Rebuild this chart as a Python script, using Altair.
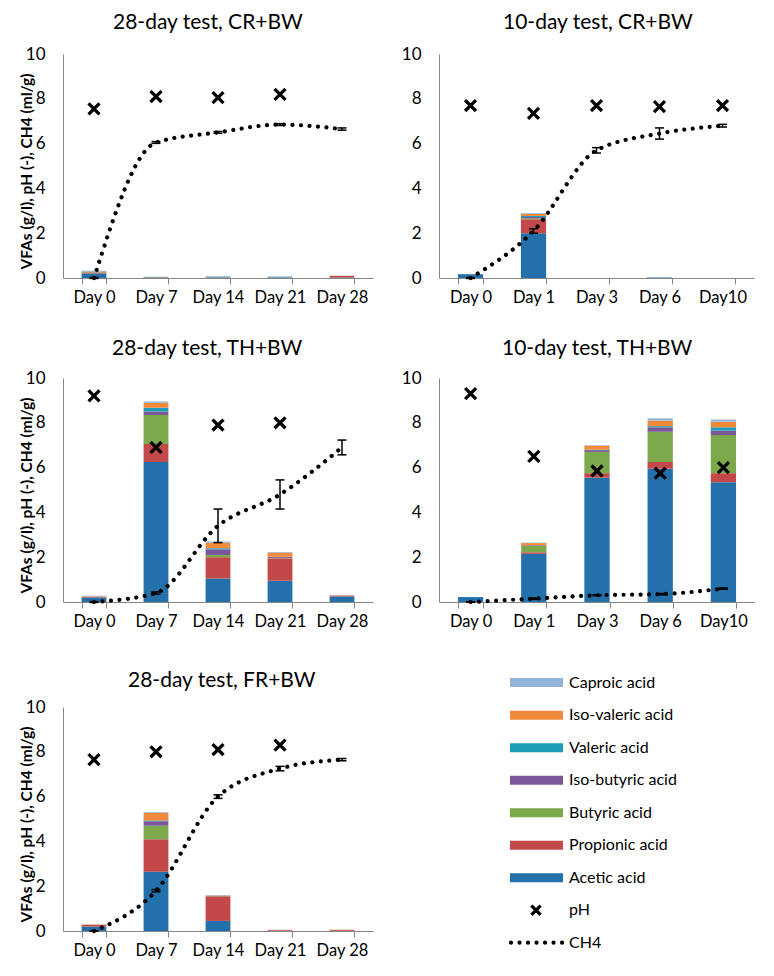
import altair as alt
import pandas as pd

# ---------------- data ----------------
days_28 = ["Day 0", "Day 7", "Day 14", "Day 21", "Day 28"]
days_10 = ["Day 0", "Day 1", "Day 3", "Day 6", "Day10"]

acids = ["Acetic acid", "Propionic acid", "Butyric acid", "Iso-butyric acid",
         "Valeric acid", "Iso-valeric acid", "Caproic acid"]
acid_colors = ["#2370AA", "#C3484A", "#7CA94B", "#7A5799",
               "#1F9DB8", "#F28A3C", "#93B4D9"]

# panel 1: 28-day test, CR+BW
p1_title = "28-day test, CR+BW"
p1_acetic = [0.20, 0.02, 0.02, 0.02, 0.02]
p1_propionic = [0.05, 0.01, 0.01, 0.01, 0.07]
p1_butyric = [0.02, 0.01, 0.01, 0.00, 0.00]
p1_isobutyric = [0.01, 0.00, 0.00, 0.00, 0.00]
p1_valeric = [0.01, 0.00, 0.02, 0.02, 0.00]
p1_isovaleric = [0.01, 0.00, 0.00, 0.00, 0.01]
p1_caproic = [0.02, 0.02, 0.02, 0.02, 0.01]
p1_ph = [7.55, 8.1, 8.05, 8.2, None]
p1_ch4 = [0.0, 6.05, 6.5, 6.85, 6.65]
p1_ch4_err = [0.02, 0.04, 0.04, 0.04, 0.05]

# panel 2: 10-day test, CR+BW
p2_title = "10-day test, CR+BW"
p2_acetic = [0.17, 2.00, 0.00, 0.00, 0.00]
p2_propionic = [0.00, 0.62, 0.00, 0.00, 0.00]
p2_butyric = [0.00, 0.05, 0.00, 0.00, 0.00]
p2_isobutyric = [0.00, 0.05, 0.00, 0.00, 0.00]
p2_valeric = [0.00, 0.05, 0.00, 0.00, 0.00]
p2_isovaleric = [0.00, 0.10, 0.00, 0.00, 0.00]
p2_caproic = [0.00, 0.03, 0.00, 0.05, 0.00]
p2_ph = [7.7, 7.35, 7.7, 7.65, 7.7]
p2_ch4 = [0.0, 2.1, 5.7, 6.45, 6.8]
p2_ch4_err = [0.02, 0.1, 0.12, 0.25, 0.06]

# panel 3: 28-day test, TH+BW
p3_title = "28-day test, TH+BW"
p3_acetic = [0.20, 6.25, 1.05, 0.95, 0.25]
p3_propionic = [0.03, 0.80, 0.95, 1.00, 0.03]
p3_butyric = [0.01, 1.30, 0.10, 0.02, 0.00]
p3_isobutyric = [0.01, 0.15, 0.25, 0.05, 0.00]
p3_valeric = [0.00, 0.17, 0.05, 0.00, 0.00]
p3_isovaleric = [0.01, 0.23, 0.25, 0.18, 0.02]
p3_caproic = [0.02, 0.05, 0.05, 0.03, 0.01]
p3_ph = [9.2, 6.9, 7.9, 8.0, None]
p3_ch4 = [0.0, 0.4, 3.4, 4.8, 6.9]
p3_ch4_err = [0.02, 0.05, 0.75, 0.65, 0.33]

# panel 4: 10-day test, TH+BW
p4_title = "10-day test, TH+BW"
p4_acetic = [0.22, 2.15, 5.55, 5.95, 5.35]
p4_propionic = [0.00, 0.07, 0.20, 0.30, 0.40]
p4_butyric = [0.00, 0.28, 0.95, 1.35, 1.70]
p4_isobutyric = [0.00, 0.03, 0.08, 0.20, 0.20]
p4_valeric = [0.00, 0.00, 0.02, 0.05, 0.15]
p4_isovaleric = [0.00, 0.10, 0.18, 0.25, 0.25]
p4_caproic = [0.00, 0.02, 0.02, 0.10, 0.10]
p4_ph = [9.3, 6.5, 5.85, 5.75, 6.0]
p4_ch4 = [0.0, 0.15, 0.3, 0.35, 0.6]
p4_ch4_err = [0.01, 0.03, 0.02, 0.03, 0.03]

# panel 5: 28-day test, FR+BW
p5_title = "28-day test, FR+BW"
p5_acetic = [0.20, 2.65, 0.45, 0.01, 0.01]
p5_propionic = [0.07, 1.45, 1.10, 0.03, 0.04]
p5_butyric = [0.00, 0.60, 0.02, 0.00, 0.00]
p5_isobutyric = [0.00, 0.20, 0.01, 0.00, 0.00]
p5_valeric = [0.00, 0.03, 0.00, 0.00, 0.00]
p5_isovaleric = [0.02, 0.35, 0.01, 0.01, 0.01]
p5_caproic = [0.01, 0.03, 0.01, 0.01, 0.00]
p5_ph = [7.65, 8.0, 8.1, 8.3, None]
p5_ch4 = [0.0, 1.8, 6.0, 7.25, 7.65]
p5_ch4_err = [0.01, 0.05, 0.08, 0.1, 0.05]

legend_labels = ["Caproic acid", "Iso-valeric acid", "Valeric acid", "Iso-butyric acid",
                 "Butyric acid", "Propionic acid", "Acetic acid", "pH", "CH4"]

y_title = "VFAs (g/l), pH (-), CH4 (ml/g)"

FONT = "Lato"
AXIS_GRAY = "#868686"
X_SHAPE = "M-1,-1L1,1M-1,1L1,-1"
PANEL_H = 224


def make_panel(title, days, acid_lists, ph, ch4, ch4_err, width, show_ytitle, title_dx, title_offset):
    bar_rows = []
    for ai, (acid, vals) in enumerate(zip(acids, acid_lists)):
        for di, (d, v) in enumerate(zip(days, vals)):
            bar_rows.append({"day": d, "acid": acid, "aidx": ai, "value": v})
    bars_df = pd.DataFrame(bar_rows)

    pt_rows = []
    for di, d in enumerate(days):
        pt_rows.append({"day": d, "idx": di, "ph": ph[di], "ch4": ch4[di],
                        "lo": ch4[di] - ch4_err[di], "hi": ch4[di] + ch4_err[di]})
    pts_df = pd.DataFrame(pt_rows)
    ph_df = pts_df.dropna(subset=["ph"])

    xscale = alt.Scale(domain=days, paddingInner=0.6, paddingOuter=0.3)
    xaxis = alt.Axis(title=None, labelAngle=0, tickBand="extent", tickSize=6,
                     tickColor=AXIS_GRAY, domainColor=AXIS_GRAY, labelPadding=5,
                     labelFontSize=16.5, labelFont=FONT, labelColor="black", grid=False)
    yaxis_kwargs = dict(values=[0, 2, 4, 6, 8, 10], ticks=False, domainColor=AXIS_GRAY,
                        labelPadding=18, labelFontSize=17, labelFont=FONT,
                        labelColor="black", grid=False)
    if show_ytitle:
        yaxis = alt.Axis(title=y_title, titleFont=FONT, titleFontSize=15.5,
                         titleFontWeight="bold", titleColor="black",
                         titleX=-37, titleY=PANEL_H / 2 + 5, titleAngle=-90,
                         titleAlign="center", titleBaseline="middle", **yaxis_kwargs)
    else:
        yaxis = alt.Axis(title=None, **yaxis_kwargs)
    yscale = alt.Scale(domain=[0, 10], nice=False)

    bars = alt.Chart(bars_df).mark_bar().encode(
        x=alt.X("day:N", scale=xscale, axis=xaxis, sort=days),
        y=alt.Y("value:Q", stack="zero", scale=yscale, axis=yaxis),
        color=alt.Color("acid:N", scale=alt.Scale(domain=acids, range=acid_colors), legend=None),
        order=alt.Order("aidx:Q", sort="ascending"),
    )

    line = alt.Chart(pts_df).mark_line(
        color="black", strokeWidth=4.2, strokeDash=[0.01, 8.5], strokeCap="round",
        interpolate="monotone",
    ).encode(
        x=alt.X("day:N", sort=days),
        y=alt.Y("ch4:Q"),
        order=alt.Order("idx:Q"),
    )

    err_rule = alt.Chart(pts_df).mark_rule(color="black", strokeWidth=1.5).encode(
        x=alt.X("day:N", sort=days), y="lo:Q", y2="hi:Q")
    cap_lo = alt.Chart(pts_df).mark_tick(color="black", thickness=1.5, size=9, opacity=1).encode(
        x=alt.X("day:N", sort=days), y="lo:Q")
    cap_hi = alt.Chart(pts_df).mark_tick(color="black", thickness=1.5, size=9, opacity=1).encode(
        x=alt.X("day:N", sort=days), y="hi:Q")

    ph_pts = alt.Chart(ph_df).mark_point(
        shape=X_SHAPE, filled=False, stroke="black", strokeWidth=3.3, size=120, opacity=1
    ).encode(x=alt.X("day:N", sort=days), y=alt.Y("ph:Q"))

    return alt.layer(bars, line, err_rule, cap_lo, cap_hi, ph_pts).properties(
        width=width, height=PANEL_H,
        title=alt.TitleParams(title, font=FONT, fontSize=21, fontWeight="normal",
                              color="black", anchor="start", align="left",
                              frame="group", dx=title_dx, offset=title_offset),
    )


def acid_set(prefix):
    g = globals()
    return [g[prefix + "_acetic"], g[prefix + "_propionic"], g[prefix + "_butyric"],
            g[prefix + "_isobutyric"], g[prefix + "_valeric"], g[prefix + "_isovaleric"],
            g[prefix + "_caproic"]]


p1 = make_panel(p1_title, days_28, acid_set("p1"), p1_ph, p1_ch4, p1_ch4_err, 310, True, 50, 12)
p2 = make_panel(p2_title, days_10, acid_set("p2"), p2_ph, p2_ch4, p2_ch4_err, 315, False, 64, 12)
p3 = make_panel(p3_title, days_28, acid_set("p3"), p3_ph, p3_ch4, p3_ch4_err, 310, True, 49, 10)
p4 = make_panel(p4_title, days_10, acid_set("p4"), p4_ph, p4_ch4, p4_ch4_err, 316, False, 63, 10)
p5 = make_panel(p5_title, days_28, acid_set("p5"), p5_ph, p5_ch4, p5_ch4_err, 310, True, 65, 7)

# ---------------- legend ----------------
leg_df = pd.DataFrame({
    "label": legend_labels,
    "row": list(range(len(legend_labels))),
    "kind": ["swatch"] * 7 + ["ph", "ch4"],
})
leg_y = alt.Y("row:Q", scale=alt.Scale(domain=[0.75, 7.64], reverse=True, nice=False, zero=False),
              axis=None)
leg_color = alt.Color("label:N", scale=alt.Scale(domain=acids, range=acid_colors), legend=None)

sw = alt.Chart(leg_df).transform_filter(alt.datum.kind == "swatch").mark_rule(
    strokeWidth=9, strokeCap="butt").encode(
    x=alt.value(109), x2=alt.value(162), y=leg_y, color=leg_color)
leg_ph = alt.Chart(leg_df).transform_filter(alt.datum.kind == "ph").mark_point(
    shape=X_SHAPE, filled=False, stroke="black", strokeWidth=3.3, size=85, opacity=1).encode(
    x=alt.value(135), y=leg_y)
leg_ch4 = alt.Chart(leg_df).transform_filter(alt.datum.kind == "ch4").mark_rule(
    color="black", strokeWidth=4.2, strokeDash=[0.01, 8.5], strokeCap="round").encode(
    x=alt.value(110), x2=alt.value(164), y=leg_y)
leg_text = alt.Chart(leg_df).mark_text(
    align="left", baseline="middle", font=FONT, fontSize=16, color="black").encode(
    x=alt.value(168), y=leg_y, text="label:N")

legend_chart = alt.layer(sw, leg_ph, leg_ch4, leg_text).properties(width=300, height=PANEL_H)

row1 = alt.hconcat(p1, p2, spacing=28).resolve_scale(x="independent", y="independent")
row2 = alt.hconcat(p3, p4, spacing=28).resolve_scale(x="independent", y="independent")
row3 = alt.hconcat(p5, legend_chart, spacing=28).resolve_scale(x="independent", y="independent")

top_rows = alt.vconcat(row1, row2, spacing=32).resolve_scale(x="independent", y="independent")

chart = alt.vconcat(top_rows, row3, spacing=40).resolve_scale(
    x="independent", y="independent"
).properties(
    padding={"left": 10, "top": 4, "right": 0, "bottom": 0},
    background="white",
).configure_view(stroke=None)

chart.save("out.html", embed_options={"renderer": "svg", "actions": False})
